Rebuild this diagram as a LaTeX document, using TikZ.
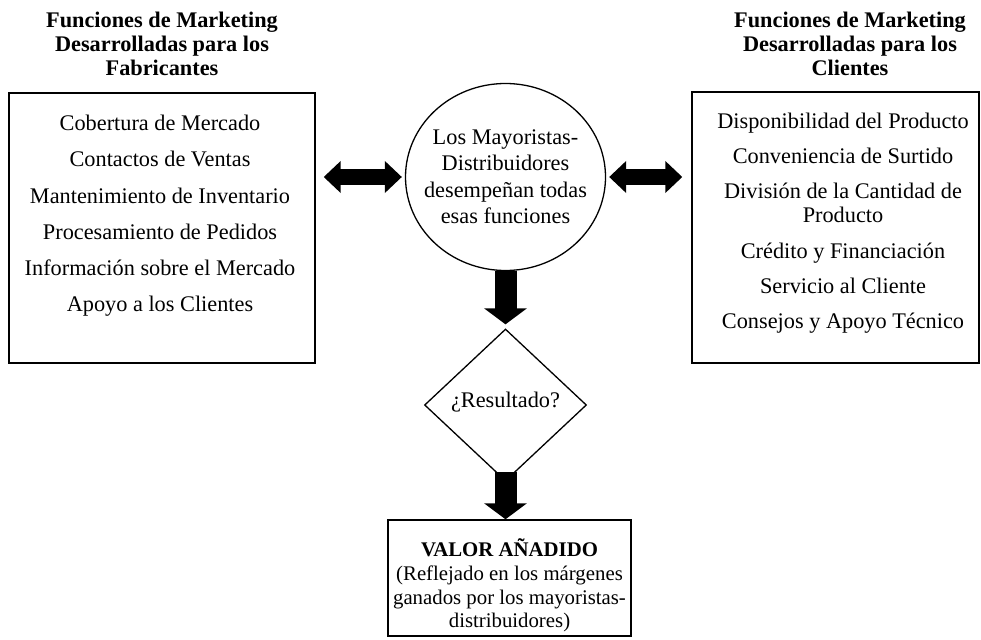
\documentclass[tikz,border=0pt]{standalone}
\usepackage{fontspec}
\setmainfont{Liberation Serif}
\usetikzlibrary{arrows.meta,shapes.geometric}
\newcommand{\tsz}{\fontsize{22.3}{26}\selectfont}
\newcommand{\bsz}{\fontsize{20.8}{24}\selectfont}
\begin{document}
\begin{tikzpicture}[x=1pt,y=-1pt,
  box/.style={draw,line width=1.4pt,inner sep=0pt,rectangle},
  txt/.style={anchor=base,inner sep=0pt,font=\tsz},
  ttl/.style={anchor=base,inner sep=0pt,font=\tsz\bfseries},
  btxt/.style={anchor=base,inner sep=0pt,font=\bsz},
  dblarrow/.style={line width=16pt,{Triangle[width=31pt,length=17pt]}-{Triangle[width=31pt,length=17pt]}},
  downarrow/.style={line width=22pt,-{Triangle[width=42pt,length=16pt]}}]
\useasboundingbox (0,0) rectangle (981,639);
% titles
\node[ttl] (lt1) at (162,28) {Funciones de Marketing};
\node[ttl] (lt2) at (162,52) {Desarrolladas para los};
\node[ttl] (lt3) at (162,76) {Fabricantes};
\node[ttl] (rt1) at (850,28) {Funciones de Marketing};
\node[ttl] (rt2) at (850,52) {Desarrolladas para los};
\node[ttl] (rt3) at (850,76) {Clientes};
% left box
\node[box,minimum width=306pt,minimum height=270pt] (lbox) at (162,228) {};
\node[txt] (l1) at (160,131) {Cobertura de Mercado};
\node[txt] (l2) at (160,167) {Contactos de Ventas};
\node[txt] (l3) at (160,203) {Mantenimiento de Inventario};
\node[txt] (l4) at (160,239) {Procesamiento de Pedidos};
\node[txt] (l5) at (160,275) {Información sobre el Mercado};
\node[txt] (l6) at (160,311) {Apoyo a los Clientes};
% right box
\node[box,minimum width=287pt,minimum height=271pt] (rbox) at (835.5,227.5) {};
\node[txt] (r1) at (843,129) {Disponibilidad del Producto};
\node[txt] (r2) at (843,164) {Conveniencia de Surtido};
\node[txt] (r3) at (843,198) {División de la Cantidad de};
\node[txt] (r3b) at (843,222) {Producto};
\node[txt] (r4) at (843,258) {Crédito y Financiación};
\node[txt] (r5) at (843,293) {Servicio al Cliente};
\node[txt] (r6) at (843,328) {Consejos y Apoyo Técnico};
% circle
\node[draw,ellipse,line width=1.3pt,inner sep=0pt,minimum width=200pt,minimum height=187pt] (circ) at (505.5,177) {};
\node[txt] (c1) at (505.5,145) {Los Mayoristas-};
\node[txt] (c2) at (505.5,171) {Distribuidores};
\node[txt] (c3) at (505.5,197) {desempeñan todas};
\node[txt] (c4) at (505.5,223) {esas funciones};
% diamond
\node[draw,diamond,line width=1.3pt,inner sep=0pt,minimum width=162pt,minimum height=152pt] (dia) at (505.5,405) {};
\node[txt] (dtxt) at (505.5,407) {¿Resultado?};
% bottom box
\node[box,minimum width=243pt,minimum height=116pt] (bbox) at (509.5,578) {};
\node[btxt,font=\bsz\bfseries] (b1) at (509.5,556) {VALOR AÑADIDO};
\node[btxt] (b2) at (509.5,580) {(Reflejado en los márgenes};
\node[btxt] (b3) at (509.5,604) {ganados por los mayoristas-};
\node[btxt] (b4) at (509.5,627) {distribuidores)};
% connectors
\draw[dblarrow,shorten <=8pt,shorten >=3pt] (lbox.east |- circ.west) -- (circ.west);
\draw[dblarrow,shorten <=3pt,shorten >=9pt] (circ.east) -- (rbox.west |- circ.east);
\draw[downarrow,shorten >=4pt] (circ.south) -- (dia.north);
\draw[downarrow,shorten <=-10pt] (dia.south) -- (dia.south |- bbox.north);
\end{tikzpicture}
\end{document}
